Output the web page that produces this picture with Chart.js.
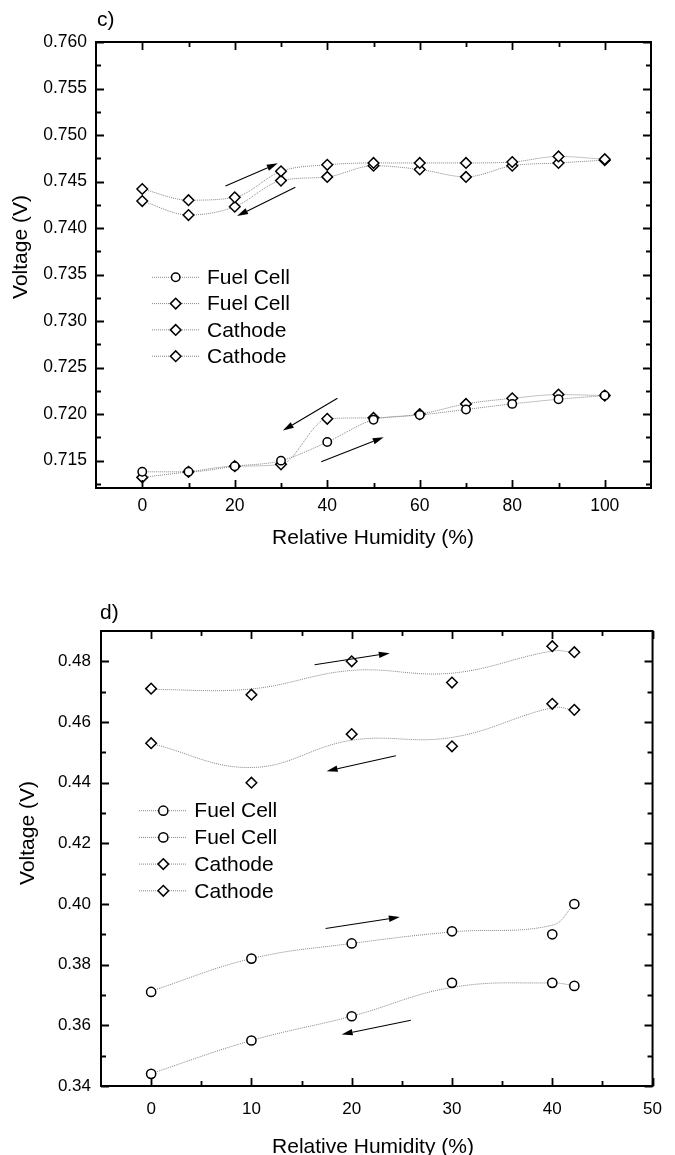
<!DOCTYPE html>
<html>
<head>
<meta charset="utf-8">
<script src="https://cdn.jsdelivr.net/npm/chart.js@4/dist/chart.umd.min.js"></script>
<style>
  html, body { margin: 0; padding: 0; background: #fff; }
  #wrap { position: relative; width: 675px; height: 1155px; overflow: hidden; }
  #wrap canvas { position: absolute; left: 0; }
  #chartC { top: 0; }
  #chartD { top: 560px; }
</style>
</head>
<body>
<div id="wrap">
  <canvas id="chartC" width="675" height="560"></canvas>
  <canvas id="chartD" width="675" height="595"></canvas>
</div>
<script>
// ---- panel c) : 0 - 100 % RH ----
const humC = [0, 10, 20, 30, 40, 50, 60, 70, 80, 90, 100];
const fuelUpC   = [0.7138, 0.7138, 0.7144, 0.7150, 0.7170, 0.7194, 0.7199, 0.7205, 0.7211, 0.7216, 0.7220];
const fuelDownC = [0.7132, 0.7138, 0.7144, 0.7146, 0.7195, 0.7196, 0.7200, 0.7211, 0.7217, 0.7221, 0.7220];
const cathUpC   = [0.7442, 0.7430, 0.7433, 0.7461, 0.7468, 0.7470, 0.7470, 0.7470, 0.7471, 0.7477, 0.7474];
const cathDownC = [0.7429, 0.7414, 0.7423, 0.7451, 0.7455, 0.7467, 0.7463, 0.7455, 0.7467, 0.7470, 0.7473];
const xTicksC = [0, 20, 40, 60, 80, 100];
const xMinorC = [10, 30, 50, 70, 90];
const yTicksC = [0.715, 0.720, 0.725, 0.730, 0.735, 0.740, 0.745, 0.750, 0.755, 0.760];
const yMinorC = [0.7125, 0.7175, 0.7225, 0.7275, 0.7325, 0.7375, 0.7425, 0.7475, 0.7525, 0.7575];
// sweep direction arrows [from, to] in (RH, V)
const arrowsC = [
  [[18.0, 0.74452], [29.3, 0.74696]],
  [[33.1, 0.74438], [20.5, 0.74129]],
  [[42.2, 0.72171], [30.4, 0.71823]],
  [[38.7, 0.71489], [52.2, 0.71752]]
];

// ---- panel d) : 0 - 42 % RH ----
const humD = [0, 10, 20, 30, 40, 42.2];
const fuelUpD   = [0.371, 0.382, 0.387, 0.391, 0.390, 0.400];
const fuelDownD = [0.344, 0.355, 0.363, 0.374, 0.374, 0.373];
const cathUpD   = [0.471, 0.469, 0.480, 0.473, 0.485, 0.483];
const cathDownD = [0.453, 0.440, 0.456, 0.452, 0.466, 0.464];
// smoothed curves, sampled at the same RH values
const fuelUpFitD   = [0.3713, 0.3820, 0.3870, 0.3908, 0.3930, 0.4000];
const fuelDownFitD = [0.3441, 0.3550, 0.3630, 0.3725, 0.3740, 0.3731];
const cathUpFitD   = [0.4707, 0.4709, 0.4770, 0.4761, 0.4834, 0.4829];
const cathDownFitD = [0.4529, 0.4450, 0.4540, 0.4549, 0.4647, 0.4639];
const xTicksD = [0, 10, 20, 30, 40, 50];
const xMinorD = [5, 15, 25, 35, 45];
const yTicksD = [0.34, 0.36, 0.38, 0.40, 0.42, 0.44, 0.46, 0.48];
const yMinorD = [0.35, 0.37, 0.39, 0.41, 0.43, 0.45, 0.47];
const arrowsD = [
  [[16.3, 0.4789], [23.8, 0.4827]],
  [[24.4, 0.4489], [17.5, 0.4438]],
  [[17.4, 0.3919], [24.8, 0.3957]],
  [[25.9, 0.3617], [19.0, 0.3570]]
];

const FONT = '"Liberation Sans", Arial, Helvetica, sans-serif';
const LINE = '#858585';

const xy = (xs, ys) => xs.map((x, i) => ({ x: x, y: ys[i] }));

const series = (label, xs, ys, style, radius) => ({
  label: label,
  data: xy(xs, ys),
  pointStyle: style,
  pointRadius: radius,
  pointHoverRadius: radius,
  pointBackgroundColor: '#fff',
  pointBorderColor: '#000',
  pointBorderWidth: 1.5,
  borderColor: LINE,
  borderWidth: 1,
  borderDash: [1, 1],
  cubicInterpolationMode: 'monotone'
});

const fitLine = (xs, ys) => ({
  label: '',
  isFit: true,
  data: xy(xs, ys),
  pointRadius: 0,
  pointHoverRadius: 0,
  borderColor: LINE,
  borderWidth: 1,
  borderDash: [1, 1],
  tension: 0.4
});

function drawMarker(ctx, style, r, x, y) {
  ctx.beginPath();
  if (style === 'rectRot') {
    ctx.moveTo(x - r, y);
    ctx.lineTo(x, y - r);
    ctx.lineTo(x + r, y);
    ctx.lineTo(x, y + r);
    ctx.closePath();
  } else {
    ctx.arc(x, y, r, 0, Math.PI * 2);
  }
  ctx.fillStyle = '#fff';
  ctx.fill();
  ctx.lineWidth = 1.5;
  ctx.strokeStyle = '#000';
  ctx.stroke();
}

function drawArrow(ctx, x1, y1, x2, y2) {
  const a = Math.atan2(y2 - y1, x2 - x1);
  const len = 11, half = 3.2;
  const bx = x2 - len * Math.cos(a), by = y2 - len * Math.sin(a);
  ctx.beginPath();
  ctx.moveTo(x1, y1);
  ctx.lineTo(bx, by);
  ctx.lineWidth = 1.1;
  ctx.strokeStyle = '#000';
  ctx.stroke();
  ctx.beginPath();
  ctx.moveTo(x2, y2);
  ctx.lineTo(bx + half * Math.sin(a), by - half * Math.cos(a));
  ctx.lineTo(bx - half * Math.sin(a), by + half * Math.cos(a));
  ctx.closePath();
  ctx.fillStyle = '#000';
  ctx.fill();
}

// Origin style box: frame, inward ticks on all four sides, legend, arrows, titles
const originFrame = {
  id: 'originFrame',
  afterDraw(chart, args, o) {
    const { ctx, chartArea: a, scales: { x, y } } = chart;
    ctx.save();
    ctx.lineCap = 'butt';

    // arrows
    o.arrows.forEach(([p, q]) => {
      drawArrow(ctx, x.getPixelForValue(p[0]), y.getPixelForValue(p[1]),
        x.getPixelForValue(q[0]), y.getPixelForValue(q[1]));
    });

    // frame
    ctx.strokeStyle = '#000';
    ctx.lineWidth = 2;
    ctx.strokeRect(a.left, a.top, a.right - a.left, a.bottom - a.top);

    // ticks
    ctx.lineWidth = 1.8;
    const vTicks = (vals, len) => vals.forEach(v => {
      const px = Math.round(x.getPixelForValue(v)) + 0.5;
      ctx.beginPath();
      ctx.moveTo(px, a.bottom); ctx.lineTo(px, a.bottom - len);
      ctx.moveTo(px, a.top); ctx.lineTo(px, a.top + len);
      ctx.stroke();
    });
    const hTicks = (vals, len) => vals.forEach(v => {
      const py = Math.round(y.getPixelForValue(v)) + 0.5;
      ctx.beginPath();
      ctx.moveTo(a.left, py); ctx.lineTo(a.left + len, py);
      ctx.moveTo(a.right, py); ctx.lineTo(a.right - len, py);
      ctx.stroke();
    });
    vTicks(o.xMajor, 8); vTicks(o.xMinor, 5);
    hTicks(o.yMajor, 8); hTicks(o.yMinor, 5);

    // legend
    const lg = o.legend;
    ctx.font = '21px ' + FONT;
    ctx.textBaseline = 'middle';
    ctx.textAlign = 'left';
    chart.data.datasets.filter(d => !d.isFit).forEach((d, i) => {
      const ry = lg.y + i * lg.dy;
      ctx.beginPath();
      ctx.setLineDash([1, 1]);
      ctx.lineWidth = 1;
      ctx.strokeStyle = LINE;
      ctx.moveTo(lg.x1, ry); ctx.lineTo(lg.x2, ry);
      ctx.stroke();
      ctx.setLineDash([]);
      drawMarker(ctx, d.pointStyle, d.pointRadius, lg.mx, ry);
      ctx.fillStyle = '#000';
      ctx.fillText(d.label, lg.tx, ry + 1);
    });

    // panel letter and axis titles
    ctx.fillStyle = '#000';
    ctx.textBaseline = 'alphabetic';
    ctx.font = '21px ' + FONT;
    ctx.fillText(o.panel.text, o.panel.x, o.panel.y);
    ctx.textAlign = 'center';
    ctx.fillText('Relative Humidity (%)', o.xTitle.x, o.xTitle.y);
    ctx.translate(o.yTitle.x, o.yTitle.y);
    ctx.rotate(-Math.PI / 2);
    ctx.fillText('Voltage (V)', 0, 0);
    ctx.restore();
  }
};

function makeChart(id, cfg) {
  return new Chart(document.getElementById(id), {
    type: 'line',
    data: { datasets: cfg.datasets },
    plugins: [originFrame],
    options: {
      responsive: false,
      animation: false,
      events: [],
      layout: { padding: { top: cfg.padTop, right: cfg.padRight, left: 0, bottom: 0 } },
      scales: {
        x: {
          type: 'linear',
          min: cfg.xMin, max: cfg.xMax,
          afterBuildTicks: s => { s.ticks = cfg.xTicks.map(v => ({ value: v })); },
          afterFit: s => { s.height = cfg.xHeight; },
          grid: { display: false, drawTicks: false },
          border: { display: false },
          ticks: {
            autoSkip: false, maxRotation: 0, color: '#000',
            padding: cfg.xPad,
            font: { family: FONT, size: cfg.tickSize },
            callback: v => String(v)
          }
        },
        y: {
          type: 'linear',
          min: cfg.yMin, max: cfg.yMax,
          afterBuildTicks: s => { s.ticks = cfg.yTicks.map(v => ({ value: v })); },
          afterFit: s => { s.width = cfg.yWidth; },
          grid: { display: false, drawTicks: false },
          border: { display: false },
          ticks: {
            autoSkip: false, color: '#000',
            padding: cfg.yPad,
            font: { family: FONT, size: cfg.tickSize },
            callback: v => v.toFixed(cfg.yDigits)
          }
        }
      },
      plugins: {
        legend: { display: false },
        tooltip: { enabled: false },
        originFrame: {
          xMajor: cfg.xTicks, xMinor: cfg.xMinor,
          yMajor: cfg.yTicks, yMinor: cfg.yMinor,
          arrows: cfg.arrows,
          legend: cfg.legend,
          panel: cfg.panel,
          xTitle: cfg.xTitle,
          yTitle: cfg.yTitle
        }
      }
    }
  });
}

makeChart('chartC', {
  datasets: [
    series('Fuel Cell', humC, fuelUpC, 'circle', 4.2),
    series('Fuel Cell', humC, fuelDownC, 'rectRot', 5.3),
    series('Cathode', humC, cathUpC, 'rectRot', 5.3),
    series('Cathode', humC, cathDownC, 'rectRot', 5.3)
  ],
  xMin: -10, xMax: 110, yMin: 0.71206, yMax: 0.760,
  xTicks: xTicksC, xMinor: xMinorC, yTicks: yTicksC, yMinor: yMinorC,
  yDigits: 3, tickSize: 17.5,
  padTop: 42, padRight: 24, xHeight: 72, yWidth: 96, xPad: 8, yPad: 9,
  arrows: arrowsC,
  legend: { x1: 152, x2: 199, mx: 175.7, tx: 207, y: 277.3, dy: 26.3 },
  panel: { text: 'c)', x: 97, y: 26 },
  xTitle: { x: 373, y: 544 },
  yTitle: { x: 27, y: 247 }
});

makeChart('chartD', {
  datasets: [
    series('Fuel Cell', humD, fuelUpD, 'circle', 4.6),
    series('Fuel Cell', humD, fuelDownD, 'circle', 4.6),
    series('Cathode', humD, cathUpD, 'rectRot', 5.3),
    series('Cathode', humD, cathDownD, 'rectRot', 5.3),
    fitLine(humD, fuelUpFitD),
    fitLine(humD, fuelDownFitD),
    fitLine(humD, cathUpFitD),
    fitLine(humD, cathDownFitD)
  ].map(d => d.isFit ? d : Object.assign(d, { showLine: false })),
  xMin: -5, xMax: 50, yMin: 0.34, yMax: 0.49,
  xTicks: xTicksD, xMinor: xMinorD, yTicks: yTicksD, yMinor: yMinorD,
  yDigits: 2, tickSize: 17,
  padTop: 71, padRight: 10, xHeight: 69, yWidth: 101, xPad: 13, yPad: 10,
  arrows: arrowsD,
  legend: { x1: 139, x2: 187, mx: 163.3, tx: 194.3, y: 250.7, dy: 26.7 },
  panel: { text: 'd)', x: 100, y: 59 },
  xTitle: { x: 373, y: 593 },
  yTitle: { x: 34, y: 273 }
});
</script>
</body>
</html>
